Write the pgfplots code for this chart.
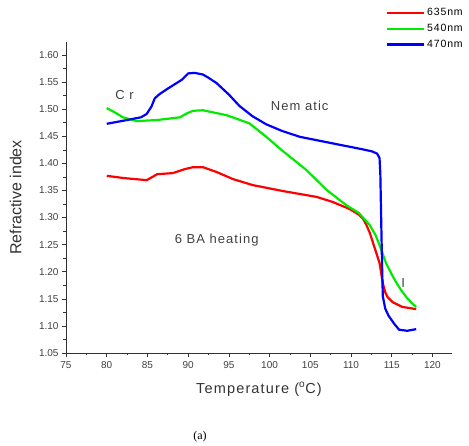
\documentclass[border=0pt]{standalone}
\usepackage{pgfplots}
\pgfplotsset{compat=1.18}
\usepackage{fontspec}
\setmainfont{Liberation Sans}
\newfontfamily\spaced[LetterSpace=8]{Liberation Sans}
\newfontfamily\serifa{Liberation Serif}
\definecolor{cred}{RGB}{255,0,0}
\definecolor{cgreen}{RGB}{0,235,0}
\definecolor{cblue}{RGB}{0,0,255}
\begin{document}
\begin{tikzpicture}
\useasboundingbox (-66pt,-93pt) rectangle (403pt,353pt);
\begin{axis}[
  scale only axis, width=386pt, height=311pt,
  xmin=75, xmax=122.4, ymin=1.05, ymax=1.624,
  axis x line*=bottom, axis y line*=left,
  axis line style={line width=0.8pt, color=black!80},
  tick align=outside, tick style={black!80, line width=0.6pt},
  major tick length=4pt, minor tick length=2.5pt,
  xtick={75,80,...,120}, ytick={1.05,1.10,...,1.601},
  minor x tick num=1, minor y tick num=1,
  /pgf/number format/assume math mode=true,
  yticklabel style={/pgf/number format/.cd, fixed, fixed zerofill, precision=2},
  ticklabel style={font=\fontsize{10}{11}\selectfont, color=black!75},
  xticklabel style={yshift=-1pt},
  xlabel={\spaced Temperature (\textsuperscript{o}C)},
  ylabel={Refractive index},
  xlabel style={font=\fontsize{14.5}{16}\selectfont, color=black!80, at={(axis description cs:0.5,0)}, anchor=north, yshift=-26pt},
  ylabel style={font=\fontsize{16}{18}\selectfont, color=black!80, at={(axis description cs:0,0.5)}, anchor=south, yshift=41pt},
  legend style={draw=none, fill=none, at={(axis description cs:1.036,1.118)}, anchor=north east,
    font=\spaced\fontsize{10.5}{12}\selectfont, row sep=3pt, inner sep=1pt},
  legend cell align=left,
  legend image code/.code={\draw[#1, line width=2.2pt] (0cm,0cm) -- (1.3cm,0cm);},
  clip=false,
]
\addplot[cred, line width=2.2pt] coordinates {
(80,1.377) (82,1.373) (84.9,1.369) (85.5,1.374) (86.2,1.380) (88.1,1.382) (89.5,1.389) (90.6,1.393) (91.8,1.393)
(93.5,1.384) (95.5,1.371) (97.9,1.360) (101.6,1.349) (105.8,1.338) (107.7,1.329)
(109.8,1.316) (111,1.305) (111.5,1.297) (111.9,1.286) (112.3,1.272) (112.6,1.258) (113.1,1.235) (113.5,1.216) (113.9,1.179)
(114.2,1.162) (114.5,1.153) (115.1,1.144) (116.3,1.135) (118,1.131)
};
\addlegendentry{635nm}
\addplot[cgreen, line width=2.2pt] coordinates {
(80,1.502) (81,1.494) (82,1.485) (83.7,1.478) (86.2,1.480) (89,1.485) (89.8,1.492) (90.6,1.497) (91.8,1.498)
(94.7,1.489) (97.5,1.474) (99.6,1.449) (101.6,1.423) (104.5,1.388) (107,1.351)
(109.4,1.323) (111,1.308) (112.3,1.286) (113.0,1.268) (113.5,1.249) (114.3,1.216) (115,1.195) (115.6,1.179)
(116.2,1.165) (116.8,1.153) (117.4,1.143) (118,1.135)
};
\addlegendentry{540nm}
\addplot[cblue, line width=2.2pt] coordinates {
(80,1.473) (82.5,1.480) (84.2,1.485) (84.9,1.491) (85.5,1.505) (85.9,1.520) (86.5,1.528) (87.5,1.538) (89.2,1.554) (90,1.566)
(90.8,1.567) (91.8,1.564) (92.5,1.558) (93.5,1.548) (95,1.527) (96.3,1.506) (97.9,1.487) (99.6,1.472) (101.5,1.460) (103.7,1.449)
(107.7,1.437) (111.4,1.426) (112.6,1.422) (113.2,1.418) (113.5,1.410) (113.6,1.38) (113.7,1.30)
(113.8,1.22) (113.9,1.155) (114.2,1.132) (114.6,1.119) (115.3,1.104) (115.9,1.093) (116.9,1.091) (118,1.094)
};
\addlegendentry{470nm}
\node[font=\spaced\fontsize{13}{14}\selectfont, color=black!75] at (axis cs:82.2,1.526) {C r};
\node[font=\spaced\fontsize{13}{14}\selectfont, color=black!75] at (axis cs:103.7,1.507) {Nem atic};
\node[font=\spaced\fontsize{13}{14}\selectfont, color=black!75] at (axis cs:93.5,1.258) {6 BA heating};
\node[font=\fontsize{13}{14}\selectfont, color=black!75] at (axis cs:116.4,1.18) {I};
\node[font=\serifa\fontsize{12}{13}\selectfont] at (axis description cs:0.347,-0.27) {(a)};
\end{axis}
\end{tikzpicture}
\end{document}
